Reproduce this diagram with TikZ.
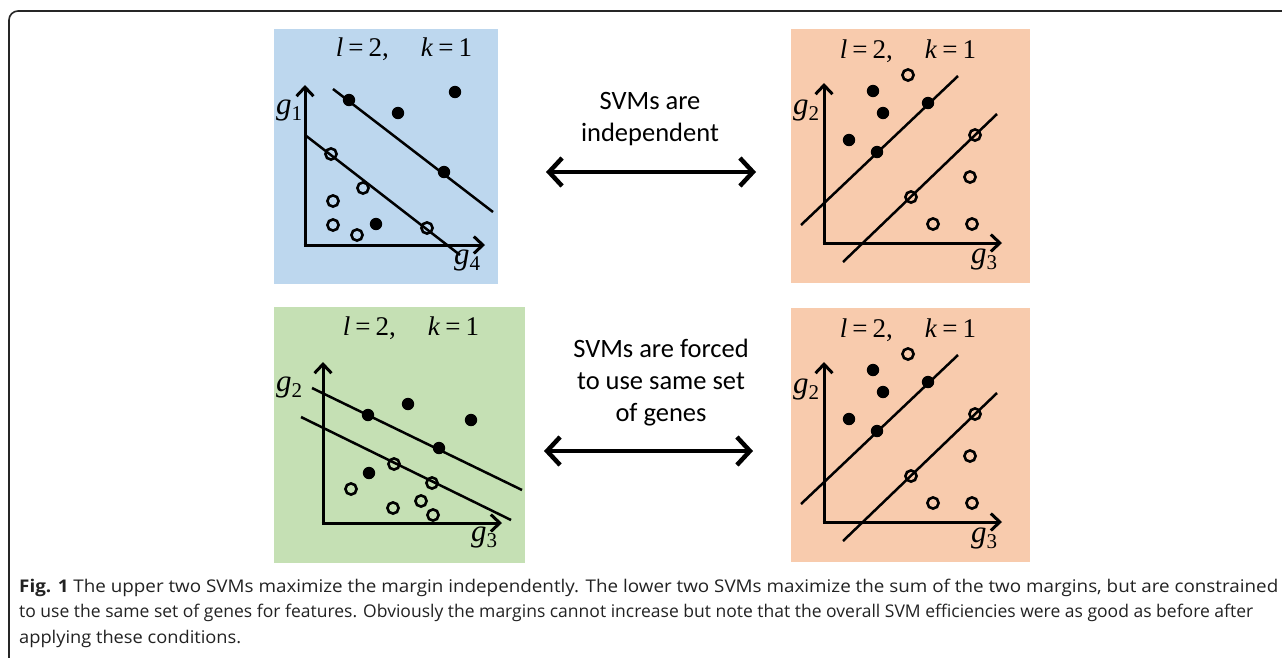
\documentclass[tikz,border=0pt]{standalone}
\usepackage{fontspec}
\usepackage{graphicx}
\setmainfont{Liberation Serif}
\newfontfamily\calib{Carlito}
\newfontfamily\capfont{Open Sans}
\usetikzlibrary{arrows.meta}
\definecolor{pblue}{HTML}{BDD7EE}
\definecolor{porange}{HTML}{F8CBAD}
\definecolor{pgreen}{HTML}{C5E0B4}
\definecolor{captxt}{HTML}{222222}
\newcommand\glab[2]{\textit{g}\raisebox{-6pt}{\fontsize{21}{21}\selectfont\upshape #2}}
\newcommand\ttl{\textit{l}\hspace{5pt}=\hspace{5pt}2,\hspace{32pt}\textit{k}\hspace{5pt}=\hspace{5pt}1}
\newcommand\capfmt{\capfont\fontsize{17.5}{20}\selectfont}
\tikzset{
  panel/.style={anchor=north west, inner sep=0pt, outer sep=0pt},
  axisarrow/.style={line width=3, -{Straight Barb[length=9pt,width=17pt]}},
  sepline/.style={line width=2.5},
  fdot/.style={fill=black},
  odot/.style={draw=black, line width=2.6},
  titletext/.style={font=\fontsize{27}{30}\selectfont, inner sep=0pt},
  glabel/.style={font=\fontsize{31}{34}\selectfont, inner sep=0pt},
  midtext/.style={font=\calib\fontsize{26.5}{32}\selectfont, align=center, inner sep=0pt},
  bigarrow/.style={line width=4.5, {Straight Barb[length=13pt,width=28pt]}-{Straight Barb[length=13pt,width=28pt]}},
  captext/.style={anchor=base west, inner sep=0pt, text=captxt, font=\capfmt},
}
\newcommand\orangeplot[1]{%
  \node[panel, fill=porange, minimum width=239pt, minimum height=254pt] (#1) at (791,29) {};
  \node[titletext] (#1t) at (908,51) {\ttl};
  \coordinate (#1o) at (824,243);
  \coordinate (#1y) at (824,83);
  \coordinate (#1x) at (1002,243);
  \draw[axisarrow] ([yshift=-1.5pt]#1o) -- (#1y);
  \draw[axisarrow] ([xshift=-1.5pt]#1o) -- (#1x);
  \node[glabel] (#1gy) at (806,110) {\glab{g}{2}};
  \node[glabel] (#1gx) at (984,259) {\glab{g}{3}};
  \coordinate (#1a) at (801,225); \coordinate (#1b) at (958,76);
  \coordinate (#1c) at (843,262); \coordinate (#1d) at (997,114);
  \draw[sepline] (#1a) -- (#1b);
  \draw[sepline] (#1c) -- (#1d);
  \foreach \p in {(873,91),(883,113),(849,140),(877,152),(928,103)} \fill[fdot] \p circle (6.2pt);
  \foreach \p in {(908,75),(975,135),(970,177),(911,197),(933,224),(972,224)} \draw[odot] \p circle (5.6pt);
}
\begin{document}
\begin{tikzpicture}[x=1pt,y=-1pt]
\useasboundingbox (0,0) rectangle (1282,657);
\fill[white] (0,0) rectangle (1282,657);
% frame
\coordinate (fb) at (9,660);
\coordinate (fc) at (9,11);
\coordinate (fr) at (1285,11);
\draw[line width=1.6, draw=black!85, rounded corners=9pt] (fb) -- (fc) -- (fr);

% ---------- top left (blue)
\node[panel, fill=pblue, minimum width=224pt, minimum height=255pt] (tl) at (274,29) {};
\node[titletext] (tlt) at (404,49) {\ttl};
\coordinate (tlo) at (305,245);
\coordinate (tly) at (305,85);
\coordinate (tlx) at (485,245);
\draw[axisarrow] ([yshift=-1.5pt]tlo) -- (tly);
\draw[axisarrow] ([xshift=-1.5pt]tlo) -- (tlx);
\node[glabel] (tlgy) at (289,110) {\glab{g}{1}};
\node[glabel] (tlgx) at (467,260) {\glab{g}{4}};
\coordinate (tla) at (333,89); \coordinate (tlb) at (493,212);
\coordinate (tlc) at (305,135); \coordinate (tld) at (460,255);
\draw[sepline] (tla) -- (tlb);
\draw[sepline] (tlc) -- (tld);
\foreach \p in {(349,100),(398,113),(455,92),(444,172),(376,224)} \fill[fdot] \p circle (6.2pt);
\foreach \p in {(331,154),(363,188),(333,201),(333,225),(357,235),(427,228)} \draw[odot] \p circle (5.6pt);

% ---------- top right (orange)
\begin{scope}
\orangeplot{tr}
\end{scope}

% ---------- bottom left (green)
\node[panel, fill=pgreen, minimum width=251pt, minimum height=256pt] (bl) at (274,307) {};
\node[titletext] (blt) at (411,328) {\ttl};
\coordinate (blo) at (323,523);
\coordinate (bly) at (323,362);
\coordinate (blx) at (502,523);
\draw[axisarrow] ([yshift=-1.5pt]blo) -- (bly);
\draw[axisarrow] ([xshift=-1.5pt]blo) -- (blx);
\node[glabel] (blgy) at (289,387) {\glab{g}{2}};
\node[glabel] (blgx) at (484,537) {\glab{g}{3}};
\coordinate (bla) at (312,388); \coordinate (blb) at (522,490);
\coordinate (blc) at (301,417); \coordinate (bld) at (511,520);
\draw[sepline] (bla) -- (blb);
\draw[sepline] (blc) -- (bld);
\foreach \p in {(368,415),(408,404),(471,420),(439,448),(369,473)} \fill[fdot] \p circle (6.2pt);
\foreach \p in {(394,464),(432,483),(351,489),(393,508),(421,501),(433,515)} \draw[odot] \p circle (5.6pt);

% ---------- bottom right (orange)
\begin{scope}[shift={(0,279)}]
\orangeplot{br}
\end{scope}

% ---------- middle arrows and texts
\node[midtext] (m1) at (650,119) {SVMs are\\independent};
\coordinate (a1l) at (546,172);
\coordinate (a1r) at (756,172);
\draw[bigarrow] (a1l) -- (a1r);

\node[midtext] (m2) at (661,383) {SVMs are forced\\to use same set\\of genes};
\coordinate (a2l) at (544,451);
\coordinate (a2r) at (753,451);
\draw[bigarrow] (a2l) -- (a2r);

% ---------- caption
\node[captext] (c1) at (19,592) {\resizebox{1259pt}{\height}{\textbf{Fig. 1} The upper two SVMs maximize the margin independently. The lower two SVMs maximize the sum of the two margins, but are constrained}};
\node[captext] (c2) at (19,617.5) {\resizebox{1234pt}{\height}{to use the same set of genes for features. Obviously the margins cannot increase but note that the overall SVM efficiencies were as good as before after}};
\node[captext] (c3) at (19,643) {\resizebox{222pt}{\height}{applying these conditions.}};
\end{tikzpicture}
\end{document}
